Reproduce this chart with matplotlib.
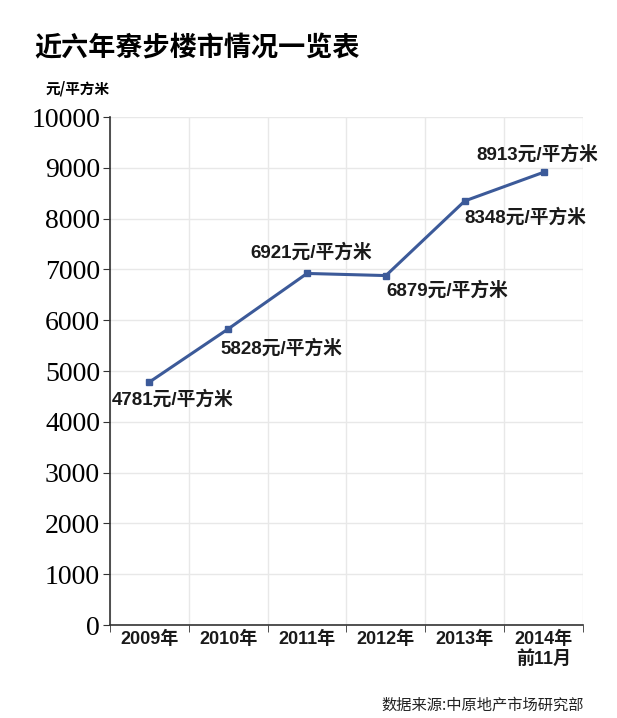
import matplotlib
matplotlib.use('Agg')
import matplotlib.pyplot as plt

plt.rcParams['font.family'] = ['Noto Sans CJK SC', 'DejaVu Sans']

years = ['2009年', '2010年', '2011年', '2012年', '2013年', '2014年\n前11月']
prices = [4781, 5828, 6921, 6879, 8348, 8913]
yticks = [0, 1000, 2000, 3000, 4000, 5000, 6000, 7000, 8000, 9000, 10000]

# label offsets in pixels (dx, dy) relative to each point
offsets = [(-38, -17), (-8, -19), (-57, 21), (0, -15), (0, -16), (-67, 18)]

fig = plt.figure(figsize=(6.17, 7.18), dpi=100)
ax = fig.add_axes([0.178, 0.1295, 0.767, 0.7075])

x = list(range(len(years)))
ax.plot(x, prices, color='#3c5a99', linewidth=2.2, marker='s', markersize=4, zorder=3)

lab_font = ['Liberation Sans', 'Noto Sans CJK SC']
for xi, p, (dx, dy) in zip(x, prices, offsets):
    ax.annotate(f'{p}元/平方米', (xi, p), xytext=(dx, dy), textcoords='offset pixels',
                ha='left', va='center', fontsize=13.5, fontweight='bold', color='#1a1a1a',
                family=lab_font)

ax.set_xlim(-0.5, len(years) - 0.5)
ax.set_ylim(0, 10000)
ax.set_yticks(yticks)
ax.set_yticklabels([str(t) for t in yticks], family='Liberation Serif', fontsize=20)
ax.set_xticks(x)
ax.set_xticklabels(years, fontsize=13, fontweight='bold', linespacing=1.15, family=lab_font,
                   color='#1a1a1a')
ax.set_xticks([i - 0.5 for i in range(len(years) + 1)], minor=True)
ax.tick_params(axis='x', which='major', length=0, pad=4)
ax.tick_params(axis='x', which='minor', length=5, direction='out', color='#333333')
ax.tick_params(axis='y', length=5, color='#333333', pad=2)

ax.grid(axis='y', color='#e8e8e8', linewidth=1)
ax.grid(axis='x', which='minor', color='#e8e8e8', linewidth=1)
ax.set_axisbelow(True)
for s in ['top', 'right']:
    ax.spines[s].set_visible(False)
ax.spines['left'].set_color('#333333')
ax.spines['bottom'].set_color('#333333')
ax.spines['left'].set_linewidth(1.2)
ax.spines['bottom'].set_linewidth(1.2)

fig.text(0.055, 0.933, '近六年寮步楼市情况一览表', fontsize=19.5, fontweight='bold', ha='left', va='center')
fig.text(0.073, 0.877, '元/平方米', fontsize=10.5, fontweight='bold', ha='left', va='center')
fig.text(0.947, 0.018, '数据来源:中原地产市场研究部', fontsize=11, ha='right', va='center', color='#222222')

fig.savefig('out.png', dpi=100, facecolor='white')
